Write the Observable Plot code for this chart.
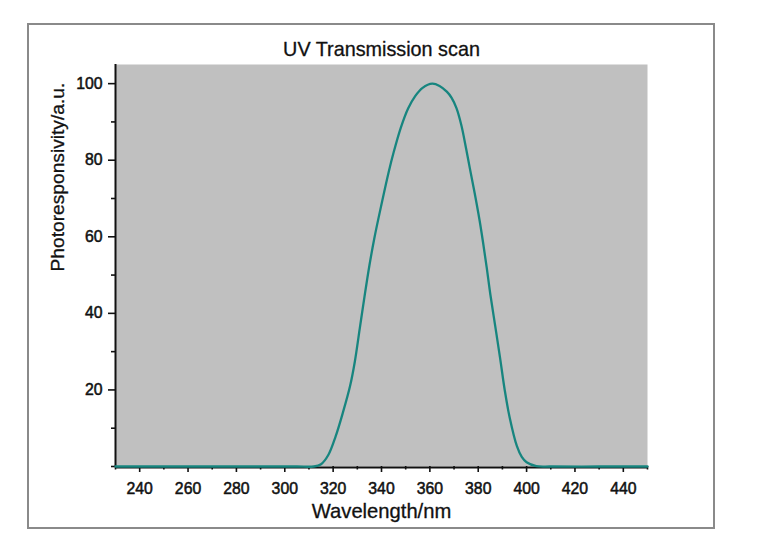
<!DOCTYPE html>
<html>
<head>
<meta charset="utf-8">
<script src="https://cdn.jsdelivr.net/npm/d3@7"></script>
<script src="https://cdn.jsdelivr.net/npm/@observablehq/plot@0.6"></script>
<style>
  html, body { margin: 0; padding: 0; background: #ffffff; }
  #wrap { position: relative; width: 759px; height: 556px; overflow: hidden; }
  #border { position: absolute; left: 27px; top: 23px; width: 684px; height: 502px; border: 2px solid #8a8a8a; pointer-events: none; }
  #chart { position: absolute; left: 0; top: 0; }
</style>
</head>
<body>
<div id="wrap"><div id="chart"></div><div id="border"></div></div>
<script>
const title = "UV Transmission scan";
const xLabel = "Wavelength/nm";
const yLabel = "Photoresponsivity/a.u.";

const wavelength = [230, 250, 270, 290, 305, 312, 315, 318, 321, 324, 327, 329, 331, 333, 335, 337, 340, 343, 345, 348, 351, 354, 357, 361, 364, 367, 369, 371, 373, 375, 376.5, 378.5, 380.5, 382, 383.5, 385, 387, 389, 391, 393, 396, 398, 400, 404, 410, 430, 450];
const response   = [0, 0, 0, 0, 0, 0, 0.6, 3, 7.8, 14, 21, 27.5, 36, 44.5, 52.5, 59.5, 68.5, 77, 82, 88.5, 93.5, 96.8, 98.9, 100, 99.4, 97.9, 96.3, 93.6, 89.2, 83, 78, 71.5, 64.5, 58.5, 52, 45, 36.8, 28.5, 19.8, 12.8, 5.3, 2.5, 1.1, 0.1, 0, 0, 0];

const xMajor = [240, 260, 280, 300, 320, 340, 360, 380, 400, 420, 440];
const xMinor = [230, 250, 270, 290, 310, 330, 350, 370, 390, 410, 430, 450];
const yMajor = [20, 40, 60, 80, 100];
const yMinor = [0, 10, 30, 50, 70, 90];

const data = wavelength.map((w, i) => ({w, v: response[i]}));
const font = "Liberation Sans, Arial, sans-serif";

const chart = Plot.plot({
  width: 759,
  height: 556,
  marginLeft: 115,
  marginRight: 112,
  marginTop: 64,
  marginBottom: 90,
  style: {fontFamily: font, fontSize: "16px", background: "transparent", color: "#000"},
  x: {domain: [230, 450]},
  y: {domain: [0, 105]},
  marks: [
    Plot.frame({fill: "#c0c0c0", stroke: null}),
    Plot.axisX({ticks: xMajor, tickSize: 6, text: null, label: null, stroke: "#111", strokeWidth: 1.6}),
    Plot.axisX({ticks: xMinor, tickSize: 3.5, text: null, label: null, stroke: "#111", strokeWidth: 1.6}),
    Plot.axisY({ticks: yMajor, tickSize: 7, text: null, label: null, stroke: "#111", strokeWidth: 1.6}),
    Plot.axisY({ticks: yMinor, tickSize: 4, text: null, label: null, stroke: "#111", strokeWidth: 1.6}),
    Plot.text(xMajor, {x: d => d, text: d => String(d), frameAnchor: "bottom", lineAnchor: "top", dy: 16, fontSize: 15.8, fill: "#111", stroke: "#111", strokeWidth: 0.5}),
    Plot.text(yMajor, {y: d => d, text: d => String(d), frameAnchor: "left", textAnchor: "end", lineAnchor: "middle", dx: -13, fontSize: 15.8, fill: "#111", stroke: "#111", strokeWidth: 0.5}),
    Plot.ruleY([0], {stroke: "#111", strokeWidth: 2, dy: 1}),
    Plot.ruleX([230], {stroke: "#111", strokeWidth: 2, dx: 0}),
    Plot.line(data, {x: "w", y: "v", stroke: "#17857f", strokeWidth: 2.3, curve: "catmull-rom"}),
    Plot.text([title], {frameAnchor: "top", lineAnchor: "middle", dy: -15, fontSize: 19.8, fill: "#111", stroke: "#111", strokeWidth: 0.3}),
    Plot.text([xLabel], {frameAnchor: "bottom", lineAnchor: "middle", dy: 45, fontSize: 20.2, fill: "#111", stroke: "#111", strokeWidth: 0.3}),
    Plot.text([yLabel], {frameAnchor: "left", lineAnchor: "middle", rotate: -90, dx: -58, dy: 6, fontSize: 19.2, fill: "#111", stroke: "#111", strokeWidth: 0.3})
  ]
});
document.getElementById("chart").appendChild(chart);
</script>
</body>
</html>
